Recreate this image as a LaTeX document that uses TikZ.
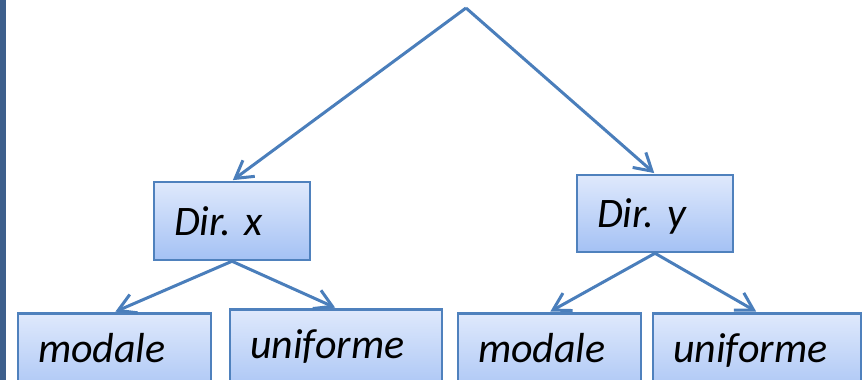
\documentclass[tikz,border=0pt]{standalone}
\usepackage{fontspec}
\setmainfont{Carlito}
\usetikzlibrary{arrows.meta}
\definecolor{boxline}{HTML}{4F81BD}
\definecolor{boxtop}{HTML}{DFE9FC}
\definecolor{boxbot}{HTML}{A4C1F4}
\definecolor{arrline}{HTML}{4A7EBB}
\definecolor{sidebar}{HTML}{3D5F8C}
\tikzset{
  choice/.style={draw=boxline, line width=2.5pt, rectangle, top color=boxtop, bottom color=boxbot,
    inner xsep=20pt, inner ysep=0pt, align=left,
    font=\fontsize{42}{50}\selectfont\itshape\frenchspacing, text height=28pt, text depth=0pt},
  leaf/.style={choice, anchor=north, minimum height=90pt, text depth=20pt},
  branch/.style={draw=arrline, line width=3pt, shorten >=1pt,
    -{Straight Barb[length=17pt,width=20pt,line width=3pt]}},
}
\begin{document}
\begin{tikzpicture}[x=1pt,y=-1pt]
  \useasboundingbox (0,0) rectangle (863,380);
  \clip (0,0) rectangle (863,380);
  \fill[sidebar] (0,0) rectangle (6,380);
  % second level: the two directions
  \node[choice, text width=116pt, minimum height=78pt] (dx) at (232,221) {Dir. x};
  \node[choice, text width=116pt, minimum height=77pt] (dy) at (655,213.5) {Dir. y};
  % third level: distribution in each direction
  \node[leaf, text width=153pt] (m1) at (114.5,312) {modale};
  \node[leaf, text width=172pt] (u1) at (336,308) {uniforme};
  \node[leaf, text width=143pt] (m2) at (549.5,312) {modale};
  \node[leaf, text width=168pt] (u2) at (757,312) {uniforme};
  % root of the tree
  \coordinate (root) at (466,8);
  \draw[branch] (root) -- (dx.north);
  \draw[branch] (root) -- (dy.north);
  \draw[branch] (dx.south) -- (m1.north);
  \draw[branch] (dx.south) -- (u1.north);
  \draw[branch] (dy.south) -- (m2.north);
  \draw[branch] (dy.south) -- (u2.north);
\end{tikzpicture}
\end{document}
